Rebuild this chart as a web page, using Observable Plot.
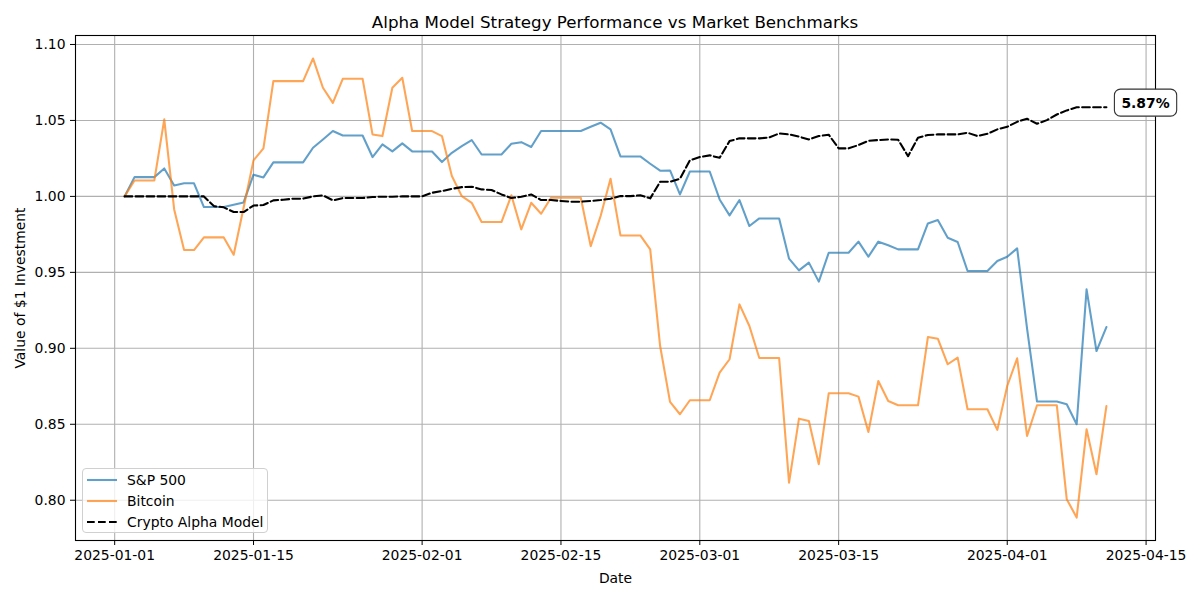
<!DOCTYPE html>
<html>
<head>
<meta charset="utf-8">
<script src="https://cdn.jsdelivr.net/npm/d3@7"></script>
<script src="https://cdn.jsdelivr.net/npm/@observablehq/plot@0.6"></script>
<style>
  body { margin: 0; background: #fff; font-family: "DejaVu Sans", sans-serif; }
  #wrap { position: relative; width: 1200px; height: 600px; overflow: hidden; }
  #title { position: absolute; left: 0; top: 12px; width: 1230px; text-align: center; font-size: 16.7px; line-height: 20px; color: #000; }
  #chart { position: absolute; left: 0; top: 30px; }
  #legend { position: absolute; left: 82px; top: 468px; width: 186px; height: 65px; box-sizing: border-box;
            border: 1px solid #d0d0d0; border-radius: 4px; background: rgba(255,255,255,0.8); }
  .lrow { position: absolute; left: 0; height: 21px; display: flex; align-items: center; font-size: 13.9px; color: #000; }
  .lrow svg { margin-left: 4px; margin-right: 10px; }
</style>
</head>
<body>
<div id="wrap">
  <div id="title">Alpha Model Strategy Performance vs Market Benchmarks</div>
  <div id="chart"></div>
  <div id="legend"></div>
</div>
<script>
// ---- data ----
const startDate = "2025-01-02";
const seriesNames = ["S&P 500", "Bitcoin", "Crypto Alpha Model"];
const sp500 = [
  1.000, 1.0127, 1.0127, 1.0127, 1.0184, 1.0072, 1.0086, 1.0086, 0.993, 0.993,
  0.993, 0.9945, 0.996, 1.0143, 1.0125, 1.0224, 1.0224, 1.0224, 1.0224, 1.032,
  1.0375, 1.043, 1.0401, 1.0401, 1.0401, 1.0259, 1.0342, 1.0296, 1.0349, 1.0296,
  1.0296, 1.0296, 1.0226, 1.0287, 1.0331, 1.0371, 1.0276, 1.0276, 1.0276, 1.0346,
  1.0357, 1.0325, 1.043, 1.043, 1.043, 1.043, 1.043, 1.0458, 1.0485, 1.0441,
  1.0263, 1.0263, 1.0263, 1.0215, 1.0169, 1.0171, 1.0013, 1.0164, 1.0164, 1.0164,
  0.998, 0.9875, 0.9976, 0.9805, 0.9855, 0.9855, 0.9855, 0.959, 0.9513, 0.9564,
  0.9439, 0.9629, 0.9629, 0.9629, 0.9702, 0.9603, 0.9702, 0.9678, 0.9651, 0.9651,
  0.9651, 0.9822, 0.9844, 0.9728, 0.970, 0.9509, 0.9509, 0.9509, 0.9575, 0.9603,
  0.9658, 0.913, 0.865, 0.865, 0.865, 0.8632, 0.850, 0.9388, 0.8982, 0.914
];
const bitcoin = [
  1.000, 1.0105, 1.0105, 1.0105, 1.0507, 0.9914, 0.9647, 0.9647, 0.973, 0.973,
  0.973, 0.9616, 0.9925, 1.0237, 1.0316, 1.0759, 1.0759, 1.0759, 1.0759, 1.0908,
  1.0715, 1.0616, 1.0774, 1.0774, 1.0774, 1.0408, 1.0397, 1.0715, 1.0781, 1.043,
  1.043, 1.043, 1.0397, 1.0134, 1.0002, 0.9958, 0.9831, 0.9831, 0.9831, 1.0007,
  0.9783, 0.9958, 0.9886, 0.9991, 0.9991, 0.9991, 0.9991, 0.9673, 0.9871, 1.0116,
  0.9743, 0.9743, 0.9743, 0.9651, 0.9015, 0.8647, 0.8566, 0.8658, 0.8658, 0.8658,
  0.884, 0.8928, 0.9289, 0.9147, 0.8936, 0.8936, 0.8936, 0.8116, 0.8537, 0.8522,
  0.8237, 0.8704, 0.8704, 0.8704, 0.8682, 0.8449, 0.8785, 0.8653, 0.8625, 0.8625,
  0.8625, 0.9074, 0.9063, 0.8895, 0.8939, 0.8599, 0.8599, 0.8599, 0.8463, 0.8752,
  0.8934, 0.8423, 0.8625, 0.8625, 0.8625, 0.8007, 0.7886, 0.8467, 0.8171, 0.862
];
const alphaModel = [
  1.000, 1.000, 1.000, 1.000, 1.000, 1.000, 1.000, 1.000, 1.000, 0.9936,
  0.9928, 0.9897, 0.9897, 0.994, 0.9943, 0.9974, 0.9978, 0.9985, 0.9985, 1.000,
  1.0007, 0.9974, 0.9989, 0.9989, 0.9989, 0.9996, 0.9998, 0.9998, 1.000, 1.000,
  1.000, 1.0024, 1.0035, 1.005, 1.0061, 1.0064, 1.0046, 1.0042, 1.0013, 0.9989,
  0.9998, 1.0013, 0.9976, 0.9976, 0.997, 0.9965, 0.9965, 0.997, 0.9976, 0.9985,
  1.0002, 1.0002, 1.0007, 0.9987, 1.0096, 1.0096, 1.0116, 1.0237, 1.0259, 1.027,
  1.0254, 1.0364, 1.0382, 1.0382, 1.0382, 1.0388, 1.0414, 1.0408, 1.0393, 1.0375,
  1.0397, 1.0406, 1.0316, 1.0316, 1.0338, 1.0366, 1.0371, 1.0375, 1.0373, 1.0265,
  1.0386, 1.0404, 1.0408, 1.0408, 1.0408, 1.0419, 1.0397, 1.0412, 1.0441, 1.0458,
  1.0491, 1.0511, 1.0478, 1.0502, 1.0539, 1.0566, 1.0587, 1.0587, 1.0587, 1.0587
];
const xTickLabels = ["2025-01-01", "2025-01-15", "2025-02-01", "2025-02-15", "2025-03-01", "2025-03-15", "2025-04-01", "2025-04-15"];
const yTicks = [0.80, 0.85, 0.90, 0.95, 1.00, 1.05, 1.10];

// ---- build ----
const seriesValues = [sp500, bitcoin, alphaModel];
const seriesStyle = [
  {stroke: "#1f77b4", strokeOpacity: 0.7, strokeWidth: 2.08, dash: null},
  {stroke: "#ff7f0e", strokeOpacity: 0.7, strokeWidth: 2.08, dash: null},
  {stroke: "#000000", strokeOpacity: 1, strokeWidth: 2.08, dash: "7.7,3.3"}
];
const start = new Date(startDate + "T00:00:00Z");
const dates = sp500.map((_, i) => d3.utcDay.offset(start, i));
const rows = [];
seriesNames.forEach((name, s) => seriesValues[s].forEach((v, i) => rows.push({series: name, date: dates[i], value: v})));

const xTicks = xTickLabels.map(s => new Date(s + "T00:00:00Z"));
const x0 = dates[0], x1 = dates[dates.length - 1];
const span = x1 - x0;
const xDomain = [new Date(+x0 - 0.05 * span), new Date(+x1 + 0.05 * span)];
const all = rows.map(r => r.value);
const lo = d3.min(all), hi = d3.max(all);
const yDomain = [lo - 0.05 * (hi - lo), hi + 0.05 * (hi - lo)];

const lastAlpha = alphaModel[alphaModel.length - 1];
const labelText = ((lastAlpha - 1) * 100).toFixed(2) + "%";
const finalLabel = [{date: x1, value: lastAlpha, text: labelText}];

const lineMarks = seriesNames.map((name, s) => Plot.lineY(rows.filter(r => r.series === name), {
  x: "date", y: "value",
  stroke: seriesStyle[s].stroke, strokeOpacity: seriesStyle[s].strokeOpacity,
  strokeWidth: seriesStyle[s].strokeWidth,
  strokeDasharray: seriesStyle[s].dash || undefined
}));

const chart = Plot.plot({
  width: 1200, height: 570,
  marginTop: 5, marginBottom: 60, marginLeft: 75, marginRight: 45,
  style: {fontFamily: "DejaVu Sans", fontSize: "13.9px", color: "#000", background: "transparent", overflow: "visible"},
  x: {type: "utc", domain: xDomain},
  y: {domain: yDomain},
  marks: [
    Plot.gridX(xTicks, {stroke: "#b0b0b0", strokeOpacity: 1, strokeWidth: 1.1}),
    Plot.gridY(yTicks, {stroke: "#b0b0b0", strokeOpacity: 1, strokeWidth: 1.1}),
    ...lineMarks,
    Plot.frame({stroke: "#000", strokeWidth: 1.1}),
    Plot.axisX(xTicks, {tickSize: 5, tickPadding: 5, tickFormat: d3.utcFormat("%Y-%m-%d"), fontSize: 13.9,
      label: "Date", labelAnchor: "center", labelArrow: "none", labelOffset: 42}),
    Plot.axisY(yTicks, {tickSize: 5, tickPadding: 5, tickFormat: d3.format(".2f"), fontSize: 13.9,
      label: "Value of $1 Investment", labelAnchor: "center", labelArrow: "none", labelOffset: 60}),
    Plot.text(finalLabel, {x: "date", y: "value", text: "text", textAnchor: "start", dx: 15, dy: -4,
      fontWeight: "bold", fontSize: 13.9, fill: "#000"})
  ]
});
document.getElementById("chart").appendChild(chart);

// rounded box behind final label
const t = Array.from(chart.querySelectorAll("text")).find(el => el.textContent === labelText);
if (t) {
  const bb = t.getBBox();
  const rect = document.createElementNS("http://www.w3.org/2000/svg", "rect");
  rect.setAttribute("x", bb.x - 7);
  rect.setAttribute("y", bb.y - 5.5);
  rect.setAttribute("width", bb.width + 14);
  rect.setAttribute("height", bb.height + 11);
  rect.setAttribute("rx", 6);
  rect.setAttribute("fill", "#fff");
  rect.setAttribute("stroke", "#333");
  rect.setAttribute("stroke-width", 1.1);
  if (t.getAttribute("transform")) rect.setAttribute("transform", t.getAttribute("transform"));
  t.parentNode.insertBefore(rect, t);
}

// legend
const legend = document.getElementById("legend");
seriesNames.forEach((name, s) => {
  const row = document.createElement("div");
  row.className = "lrow";
  row.style.top = (0.5 + s * 21) + "px";
  const st = seriesStyle[s];
  row.innerHTML = `<svg width="30" height="6"><line x1="0" x2="30" y1="3" y2="3" stroke="${st.stroke}" stroke-opacity="${st.strokeOpacity}" stroke-width="${st.strokeWidth}" ${st.dash ? `stroke-dasharray="${st.dash}"` : ""}/></svg><span></span>`;
  row.querySelector("span").textContent = name;
  legend.appendChild(row);
});
</script>
</body>
</html>
